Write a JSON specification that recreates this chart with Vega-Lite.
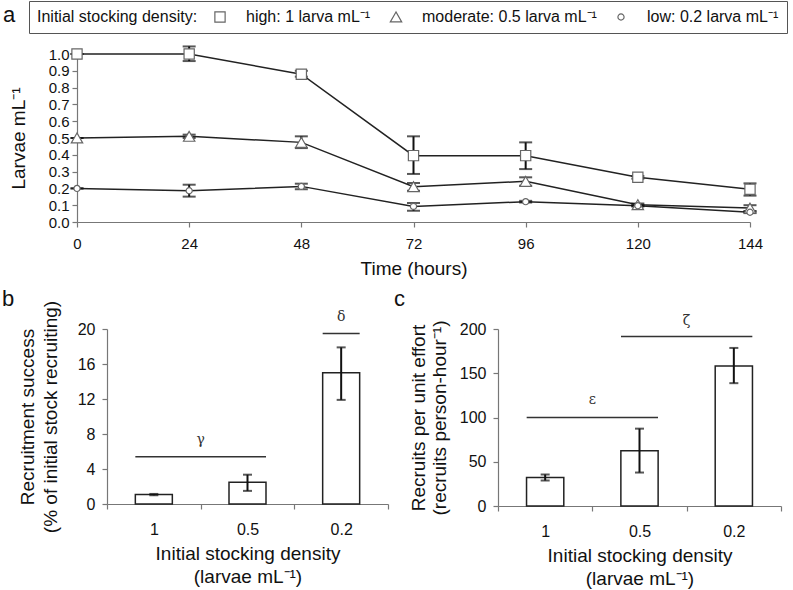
{
  "$schema": "https://vega.github.io/schema/vega-lite/v6.json",
  "padding": {"left": 2, "top": 0, "right": 2, "bottom": 2},
  "config": {
    "font": "Liberation Sans",
    "view": {"stroke": null},
    "axis": {"grid": false, "domainColor": "#777", "tickColor": "#777", "tickSize": 5, "domainWidth": 1.2, "tickWidth": 1.2, "labelColor": "#111", "titleColor": "#111", "labelFontSize": 16, "titleFontSize": 19, "titleFontWeight": "normal", "labelFont": "Liberation Sans", "titleFont": "Liberation Sans", "labelOverlap": false, "labelFlush": false},
    "title": {"fontWeight": "normal", "fontSize": 22, "color": "#111", "anchor": "start", "frame": "group", "font": "Liberation Sans"}
  },
  "datasets": {
    "timeseries": [
      {"series": "high: 1 larva mL⁻¹", "time": 0, "mean": 1.0, "lo": 1.0, "hi": 1.0},
      {"series": "high: 1 larva mL⁻¹", "time": 24, "mean": 1.0, "lo": 0.958, "hi": 1.045},
      {"series": "high: 1 larva mL⁻¹", "time": 48, "mean": 0.88, "lo": 0.865, "hi": 0.9},
      {"series": "high: 1 larva mL⁻¹", "time": 72, "mean": 0.395, "lo": 0.286, "hi": 0.51},
      {"series": "high: 1 larva mL⁻¹", "time": 96, "mean": 0.395, "lo": 0.315, "hi": 0.474},
      {"series": "high: 1 larva mL⁻¹", "time": 120, "mean": 0.266, "lo": 0.258, "hi": 0.274},
      {"series": "high: 1 larva mL⁻¹", "time": 144, "mean": 0.195, "lo": 0.157, "hi": 0.23},
      {"series": "moderate: 0.5 larva mL⁻¹", "time": 0, "mean": 0.5, "lo": 0.5, "hi": 0.5},
      {"series": "moderate: 0.5 larva mL⁻¹", "time": 24, "mean": 0.51, "lo": 0.5, "hi": 0.52},
      {"series": "moderate: 0.5 larva mL⁻¹", "time": 48, "mean": 0.474, "lo": 0.44, "hi": 0.51},
      {"series": "moderate: 0.5 larva mL⁻¹", "time": 72, "mean": 0.21, "lo": 0.186, "hi": 0.232},
      {"series": "moderate: 0.5 larva mL⁻¹", "time": 96, "mean": 0.242, "lo": 0.216, "hi": 0.266},
      {"series": "moderate: 0.5 larva mL⁻¹", "time": 120, "mean": 0.103, "lo": 0.095, "hi": 0.11},
      {"series": "moderate: 0.5 larva mL⁻¹", "time": 144, "mean": 0.083, "lo": 0.065, "hi": 0.1},
      {"series": "low: 0.2 larva mL⁻¹", "time": 0, "mean": 0.2, "lo": 0.2, "hi": 0.2},
      {"series": "low: 0.2 larva mL⁻¹", "time": 24, "mean": 0.186, "lo": 0.151, "hi": 0.222},
      {"series": "low: 0.2 larva mL⁻¹", "time": 48, "mean": 0.212, "lo": 0.195, "hi": 0.228},
      {"series": "low: 0.2 larva mL⁻¹", "time": 72, "mean": 0.093, "lo": 0.067, "hi": 0.113},
      {"series": "low: 0.2 larva mL⁻¹", "time": 96, "mean": 0.121, "lo": 0.116, "hi": 0.126},
      {"series": "low: 0.2 larva mL⁻¹", "time": 120, "mean": 0.097, "lo": 0.092, "hi": 0.102},
      {"series": "low: 0.2 larva mL⁻¹", "time": 144, "mean": 0.058, "lo": 0.053, "hi": 0.063}
    ],
    "recruit": [
      {"density": "1", "success": 1.1, "success_lo": 1.0, "success_hi": 1.15, "rpue": 32.2, "rpue_lo": 28.8, "rpue_hi": 35.6},
      {"density": "0.5", "success": 2.5, "success_lo": 1.5, "success_hi": 3.35, "rpue": 62.3, "rpue_lo": 37.8, "rpue_hi": 87.4},
      {"density": "0.2", "success": 15.0, "success_lo": 11.9, "success_hi": 17.9, "rpue": 158.3, "rpue_lo": 138.8, "rpue_hi": 178.6}
    ],
    "sigB": [
      {"from": "1", "to": "0.5", "line": 5.4, "label": "γ", "labely": 7.3},
      {"from": "0.2", "to": "0.2", "line": 19.5, "label": "δ", "labely": 21.4}
    ],
    "sigC": [
      {"from": "1", "to": "0.5", "line": 100, "label": "ε", "labely": 119.7},
      {"from": "0.5", "to": "0.2", "line": 191.4, "label": "ζ", "labely": 208.7}
    ]
  },
  "columns": 1,
  "spacing": 10,
  "concat": [
    {
      "width": 643,
      "height": 168,
      "title": {"text": "a", "dx": -104, "dy": -14},
      "data": {"name": "timeseries"},
      "encoding": {
        "x": {"field": "time", "type": "quantitative", "scale": {"domain": [0, 144], "nice": false, "range": [-30, 643]},
          "axis": {"values": [0, 24, 48, 72, 96, 120, 144], "title": "Time (hours)", "labelFontSize": 15, "labelPadding": 9, "titlePadding": 8}}
      },
      "layer": [
        {
          "mark": {"type": "line", "color": "#222", "strokeWidth": 1.5},
          "encoding": {
            "y": {"field": "mean", "type": "quantitative", "scale": {"domain": [0, 1], "nice": false},
              "axis": {"values": [0, 0.1, 0.2, 0.3, 0.4, 0.5, 0.6, 0.7, 0.8, 0.9, 1.0], "format": ".1f", "title": "Larvae mL⁻¹", "labelFontSize": 15, "labelPadding": 3, "titlePadding": 20, "offset": 30}},
            "detail": {"field": "series", "type": "nominal"}
          }
        },
        {
          "mark": {"type": "errorbar", "ticks": true, "size": 13, "thickness": 2, "color": "#111"},
          "encoding": {
            "y": {"field": "lo", "type": "quantitative", "scale": {"domain": [0, 1], "nice": false},
              "axis": {"values": [0, 0.1, 0.2, 0.3, 0.4, 0.5, 0.6, 0.7, 0.8, 0.9, 1.0], "format": ".1f", "title": "Larvae mL⁻¹", "labelFontSize": 15, "labelPadding": 3, "titlePadding": 20, "offset": 30}},
            "y2": {"field": "hi"},
            "detail": {"field": "series", "type": "nominal"}
          }
        },
        {
          "mark": {"type": "point", "filled": true, "fill": "white", "stroke": "#666", "strokeWidth": 1.2, "opacity": 1},
          "encoding": {
            "y": {"field": "mean", "type": "quantitative", "scale": {"domain": [0, 1], "nice": false},
              "axis": {"values": [0, 0.1, 0.2, 0.3, 0.4, 0.5, 0.6, 0.7, 0.8, 0.9, 1.0], "format": ".1f", "title": "Larvae mL⁻¹", "labelFontSize": 15, "labelPadding": 3, "titlePadding": 20, "offset": 30}},
            "shape": {"field": "series", "type": "nominal",
              "scale": {"domain": ["high: 1 larva mL⁻¹", "moderate: 0.5 larva mL⁻¹", "low: 0.2 larva mL⁻¹"], "range": ["square", "triangle-up", "circle"]},
              "legend": {
                "title": "Initial stocking density:", "orient": "none", "legendX": -78, "legendY": -53,
                "direction": "horizontal", "titleOrient": "left", "titleFontSize": 16, "titleFontWeight": "normal", "titleColor": "#111", "titlePadding": 14,
                "labelFontSize": 16, "labelColor": "#111", "labelOffset": 18, "labelLimit": 400, "columnPadding": 16,
                "strokeColor": "#555", "padding": 8, "symbolFillColor": "white", "symbolStrokeColor": "#555", "symbolStrokeWidth": 1.2
              }},
            "size": {"field": "series", "type": "nominal",
              "scale": {"type": "ordinal", "domain": ["high: 1 larva mL⁻¹", "moderate: 0.5 larva mL⁻¹", "low: 0.2 larva mL⁻¹"], "range": [105, 130, 38]}}
          }
        }
      ]
    },
    {
      "hconcat": [
        {
          "width": 281,
          "height": 175,
          "title": {"text": "b", "dx": -105, "dy": 15},
          "layer": [
            {
              "data": {"name": "recruit"},
              "mark": {"type": "bar", "width": {"band": 0.395}, "fill": "white", "stroke": "#222", "strokeWidth": 1.5},
              "encoding": {
                "x": {"field": "density", "type": "nominal", "sort": null, "scale": {"domain": ["1", "0.5", "0.2"], "paddingInner": 0, "paddingOuter": 0},
                  "axis": {"labelAngle": 0, "tickBand": "extent", "labelPadding": 12, "title": ["Initial stocking density", "(larvae mL⁻¹)"], "titleLineHeight": 23, "titlePadding": 7}},
                "y": {"field": "success", "type": "quantitative", "scale": {"domain": [0, 20], "nice": false},
                  "axis": {"values": [0, 4, 8, 12, 16, 20], "labelPadding": 7, "title": ["Recruitment success", "(% of initial stock recruiting)"], "titleLineHeight": 23, "titlePadding": 17}}
              }
            },
            {
              "data": {"name": "recruit"},
              "mark": {"type": "errorbar", "ticks": true, "size": 9, "thickness": 2, "color": "#111"},
              "encoding": {
                "x": {"field": "density", "type": "nominal", "sort": null, "scale": {"domain": ["1", "0.5", "0.2"]}},
                "y": {"field": "success_lo", "type": "quantitative",
                  "axis": {"values": [0, 4, 8, 12, 16, 20], "labelPadding": 7, "title": ["Recruitment success", "(% of initial stock recruiting)"], "titleLineHeight": 23, "titlePadding": 17}},
                "y2": {"field": "success_hi"}
              }
            },
            {
              "data": {"name": "sigB"},
              "mark": {"type": "rule", "color": "#333", "strokeWidth": 1.5, "xOffset": -18.5, "x2Offset": 18.5},
              "encoding": {
                "x": {"field": "from", "type": "nominal", "scale": {"domain": ["1", "0.5", "0.2"]}},
                "x2": {"field": "to"},
                "y": {"field": "line", "type": "quantitative",
                  "axis": {"values": [0, 4, 8, 12, 16, 20], "labelPadding": 7, "title": ["Recruitment success", "(% of initial stock recruiting)"], "titleLineHeight": 23, "titlePadding": 17}}
              }
            },
            {
              "data": {"name": "sigB"},
              "transform": [{"filter": "datum.from != datum.to"}],
              "mark": {"type": "text", "font": "DejaVu Serif", "fontSize": 14, "color": "#333", "baseline": "middle"},
              "encoding": {
                "x": {"field": "to", "type": "nominal", "bandPosition": 0, "scale": {"domain": ["1", "0.5", "0.2"]}},
                "y": {"field": "labely", "type": "quantitative",
                  "axis": {"values": [0, 4, 8, 12, 16, 20], "labelPadding": 7, "title": ["Recruitment success", "(% of initial stock recruiting)"], "titleLineHeight": 23, "titlePadding": 17}},
                "text": {"field": "label"}
              }
            },
            {
              "data": {"name": "sigB"},
              "transform": [{"filter": "datum.from == datum.to"}],
              "mark": {"type": "text", "font": "DejaVu Serif", "fontSize": 14, "color": "#333", "baseline": "middle"},
              "encoding": {
                "x": {"field": "to", "type": "nominal", "bandPosition": 0.5, "scale": {"domain": ["1", "0.5", "0.2"]}},
                "y": {"field": "labely", "type": "quantitative",
                  "axis": {"values": [0, 4, 8, 12, 16, 20], "labelPadding": 7, "title": ["Recruitment success", "(% of initial stock recruiting)"], "titleLineHeight": 23, "titlePadding": 17}},
                "text": {"field": "label"}
              }
            }
          ]
        },
        {
          "width": 283,
          "height": 177,
          "title": {"text": "c", "dx": -104, "dy": 1},
          "layer": [
            {
              "data": {"name": "recruit"},
              "mark": {"type": "bar", "width": {"band": 0.395}, "fill": "white", "stroke": "#222", "strokeWidth": 1.5},
              "encoding": {
                "x": {"field": "density", "type": "nominal", "sort": null, "scale": {"domain": ["1", "0.5", "0.2"], "paddingInner": 0, "paddingOuter": 0},
                  "axis": {"labelAngle": 0, "tickBand": "extent", "labelPadding": 12, "title": ["Initial stocking density", "(larvae mL⁻¹)"], "titleLineHeight": 23, "titlePadding": 7}},
                "y": {"field": "rpue", "type": "quantitative", "scale": {"domain": [0, 200], "nice": false},
                  "axis": {"values": [0, 50, 100, 150, 200], "labelPadding": 7, "title": ["Recruits per unit effort", "(recruits person-hour⁻¹)"], "titleLineHeight": 21, "titlePadding": 10}}
              }
            },
            {
              "data": {"name": "recruit"},
              "mark": {"type": "errorbar", "ticks": true, "size": 9, "thickness": 2, "color": "#111"},
              "encoding": {
                "x": {"field": "density", "type": "nominal", "sort": null, "scale": {"domain": ["1", "0.5", "0.2"]}},
                "y": {"field": "rpue_lo", "type": "quantitative",
                  "axis": {"values": [0, 50, 100, 150, 200], "labelPadding": 7, "title": ["Recruits per unit effort", "(recruits person-hour⁻¹)"], "titleLineHeight": 21, "titlePadding": 10}},
                "y2": {"field": "rpue_hi"}
              }
            },
            {
              "data": {"name": "sigC"},
              "mark": {"type": "rule", "color": "#333", "strokeWidth": 1.5, "xOffset": -18.5, "x2Offset": 18.5},
              "encoding": {
                "x": {"field": "from", "type": "nominal", "scale": {"domain": ["1", "0.5", "0.2"]}},
                "x2": {"field": "to"},
                "y": {"field": "line", "type": "quantitative",
                  "axis": {"values": [0, 50, 100, 150, 200], "labelPadding": 7, "title": ["Recruits per unit effort", "(recruits person-hour⁻¹)"], "titleLineHeight": 21, "titlePadding": 10}}
              }
            },
            {
              "data": {"name": "sigC"},
              "mark": {"type": "text", "font": "DejaVu Serif", "fontSize": 14, "color": "#333", "baseline": "middle"},
              "encoding": {
                "x": {"field": "to", "type": "nominal", "bandPosition": 0, "scale": {"domain": ["1", "0.5", "0.2"]}},
                "y": {"field": "labely", "type": "quantitative",
                  "axis": {"values": [0, 50, 100, 150, 200], "labelPadding": 7, "title": ["Recruits per unit effort", "(recruits person-hour⁻¹)"], "titleLineHeight": 21, "titlePadding": 10}},
                "text": {"field": "label"}
              }
            }
          ]
        }
      ],
      "spacing": 5
    }
  ]
}
